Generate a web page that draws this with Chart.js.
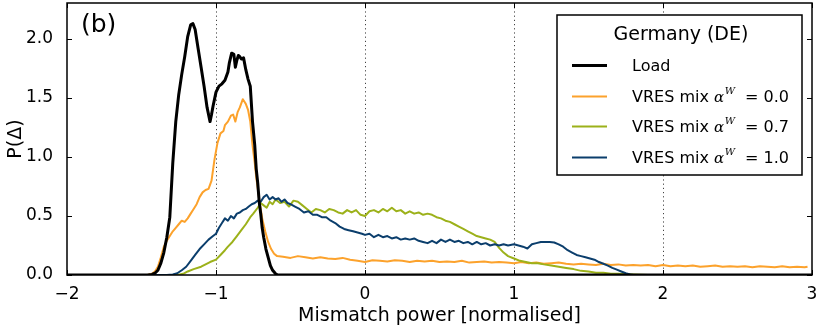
<!DOCTYPE html>
<html><head><meta charset="utf-8">
<script src="https://cdn.jsdelivr.net/npm/chart.js@4/dist/chart.umd.min.js"></script>
<style>html,body{margin:0;padding:0;background:#fff}#wrap{width:822px;height:329px;position:relative}</style>
</head><body><div id="wrap"><canvas id="c" width="822" height="329"></canvas></div>
<script>
const xTicks = [-2, -1, 0, 1, 2, 3];
const yTicks = [0, 0.5, 1.0, 1.5, 2.0];
const seriesNames = ["Load", "VRES mix", "VRES mix", "VRES mix"];
const mixValues = [null, "0.0", "0.7", "1.0"];

const loadX = [-2.0,-1.46,-1.43,-1.41,-1.39,-1.37,-1.35,-1.33,-1.31,-1.29,-1.27,-1.25,-1.23,-1.21,-1.19,-1.17,-1.155,-1.14,-1.12,-1.10,-1.08,-1.06,-1.04,-1.03,-1.02,-1.0,-0.98,-0.96,-0.94,-0.92,-0.91,-0.895,-0.88,-0.87,-0.86,-0.85,-0.84,-0.83,-0.815,-0.80,-0.785,-0.77,-0.755,-0.74,-0.73,-0.72,-0.71,-0.70,-0.69,-0.68,-0.665,-0.65,-0.635,-0.62,-0.60,-0.585,3.0];
const loadY = [0,0,0.005,0.015,0.04,0.10,0.19,0.32,0.49,0.95,1.30,1.53,1.70,1.85,2.02,2.12,2.13,2.08,1.92,1.76,1.60,1.42,1.30,1.36,1.43,1.55,1.60,1.62,1.65,1.72,1.80,1.88,1.87,1.76,1.82,1.86,1.85,1.83,1.84,1.74,1.66,1.60,1.30,1.10,0.90,0.78,0.62,0.52,0.40,0.32,0.22,0.15,0.08,0.04,0.01,0,0];

const mix00X = [-2.0,-1.46,-1.43,-1.41,-1.39,-1.37,-1.35,-1.33,-1.31,-1.29,-1.27,-1.25,-1.23,-1.21,-1.19,-1.17,-1.15,-1.13,-1.11,-1.09,-1.07,-1.05,-1.03,-1.01,-0.99,-0.97,-0.95,-0.94,-0.92,-0.90,-0.885,-0.87,-0.855,-0.84,-0.82,-0.81,-0.80,-0.785,-0.77,-0.755,-0.74,-0.73,-0.71,-0.69,-0.67,-0.65,-0.63,-0.61,-0.59,-0.55,-0.5,-0.45,-0.4,-0.35,-0.3,-0.25,-0.2,-0.15,-0.1,-0.05,0,0.05,0.1,0.15,0.2,0.25,0.3,0.35,0.4,0.45,0.5,0.55,0.6,0.65,0.7,0.75,0.8,0.85,0.9,0.95,1.0,1.05,1.1,1.15,1.2,1.25,1.3,1.35,1.4,1.45,1.5,1.55,1.6,1.65,1.7,1.75,1.8,1.85,1.9,1.95,2.0,2.05,2.1,2.15,2.2,2.25,2.3,2.35,2.4,2.45,2.5,2.55,2.6,2.65,2.7,2.75,2.8,2.85,2.9,2.95,2.97];
const mix00Y = [0,0,0.01,0.03,0.07,0.15,0.24,0.29,0.33,0.37,0.40,0.43,0.46,0.45,0.48,0.52,0.56,0.60,0.66,0.70,0.72,0.73,0.80,0.98,1.12,1.20,1.22,1.27,1.30,1.35,1.36,1.30,1.38,1.42,1.49,1.47,1.45,1.40,1.30,1.10,0.95,0.83,0.64,0.48,0.37,0.28,0.22,0.18,0.16,0.155,0.145,0.16,0.15,0.14,0.15,0.14,0.135,0.145,0.13,0.12,0.11,0.125,0.12,0.115,0.125,0.12,0.11,0.12,0.115,0.12,0.11,0.115,0.11,0.12,0.105,0.11,0.115,0.105,0.11,0.105,0.10,0.11,0.10,0.105,0.095,0.10,0.105,0.095,0.09,0.095,0.09,0.085,0.095,0.085,0.09,0.08,0.085,0.08,0.085,0.075,0.085,0.075,0.08,0.075,0.08,0.07,0.075,0.08,0.07,0.075,0.07,0.075,0.065,0.075,0.07,0.065,0.075,0.065,0.07,0.065,0.07];

const mix07X = [-2.0,-1.26,-1.22,-1.19,-1.15,-1.10,-1.07,-1.04,-1.0,-0.97,-0.94,-0.92,-0.89,-0.86,-0.83,-0.80,-0.77,-0.75,-0.72,-0.70,-0.68,-0.66,-0.64,-0.62,-0.60,-0.57,-0.54,-0.51,-0.48,-0.45,-0.42,-0.39,-0.36,-0.33,-0.30,-0.27,-0.24,-0.21,-0.18,-0.15,-0.12,-0.09,-0.06,-0.03,0.0,0.03,0.06,0.09,0.12,0.15,0.18,0.21,0.24,0.27,0.30,0.33,0.36,0.39,0.42,0.45,0.48,0.51,0.54,0.57,0.60,0.63,0.66,0.69,0.72,0.75,0.78,0.81,0.84,0.87,0.90,0.93,0.96,1.0,1.04,1.08,1.12,1.16,1.20,1.25,1.30,1.35,1.40,1.45,1.50,1.55,1.60,1.65,1.70,1.80,1.90];
const mix07Y = [0,0,0.01,0.03,0.05,0.07,0.09,0.11,0.13,0.17,0.21,0.24,0.28,0.33,0.38,0.43,0.49,0.52,0.57,0.61,0.59,0.57,0.62,0.60,0.64,0.61,0.62,0.58,0.63,0.62,0.59,0.56,0.53,0.56,0.55,0.53,0.56,0.55,0.53,0.52,0.55,0.53,0.55,0.51,0.50,0.54,0.55,0.53,0.56,0.54,0.57,0.54,0.55,0.52,0.54,0.52,0.53,0.51,0.52,0.51,0.49,0.48,0.46,0.45,0.43,0.41,0.39,0.37,0.35,0.33,0.32,0.31,0.30,0.28,0.23,0.19,0.16,0.14,0.12,0.11,0.10,0.10,0.09,0.08,0.07,0.06,0.05,0.035,0.03,0.02,0.02,0.01,0.01,0.005,0.0];

const mix10X = [-2.0,-1.33,-1.29,-1.26,-1.23,-1.20,-1.17,-1.14,-1.11,-1.08,-1.05,-1.02,-1.0,-0.98,-0.96,-0.94,-0.92,-0.90,-0.88,-0.86,-0.84,-0.82,-0.80,-0.78,-0.76,-0.74,-0.72,-0.70,-0.68,-0.66,-0.64,-0.62,-0.60,-0.58,-0.56,-0.54,-0.52,-0.50,-0.47,-0.44,-0.41,-0.38,-0.35,-0.32,-0.29,-0.26,-0.23,-0.20,-0.17,-0.14,-0.11,-0.08,-0.05,-0.02,0.0,0.03,0.06,0.09,0.12,0.15,0.18,0.21,0.24,0.27,0.30,0.33,0.36,0.39,0.42,0.45,0.48,0.51,0.54,0.57,0.60,0.63,0.66,0.69,0.72,0.75,0.78,0.81,0.84,0.87,0.90,0.93,0.96,1.0,1.03,1.06,1.09,1.12,1.15,1.18,1.21,1.24,1.27,1.30,1.33,1.36,1.39,1.42,1.45,1.48,1.51,1.54,1.57,1.60,1.63,1.66,1.69,1.72,1.75,1.78,1.80];
const mix10Y = [0,0,0.005,0.015,0.04,0.07,0.12,0.17,0.22,0.26,0.30,0.33,0.35,0.40,0.44,0.48,0.46,0.50,0.48,0.52,0.53,0.55,0.56,0.58,0.60,0.61,0.63,0.62,0.66,0.68,0.64,0.66,0.64,0.65,0.62,0.64,0.61,0.60,0.58,0.56,0.53,0.54,0.51,0.51,0.49,0.49,0.46,0.44,0.41,0.39,0.38,0.37,0.36,0.35,0.34,0.35,0.32,0.34,0.32,0.33,0.31,0.32,0.30,0.31,0.30,0.31,0.29,0.28,0.27,0.29,0.27,0.30,0.28,0.30,0.28,0.29,0.27,0.28,0.26,0.28,0.26,0.27,0.25,0.26,0.25,0.26,0.25,0.26,0.25,0.24,0.225,0.26,0.27,0.28,0.28,0.28,0.275,0.26,0.24,0.21,0.19,0.17,0.16,0.15,0.14,0.13,0.11,0.095,0.08,0.06,0.045,0.03,0.015,0.005,0];

const colors = ["#000000", "#fca22c", "#9cb11a", "#0b3e6c"];
const widths = [3, 2, 2, 2];

function pts(xs, ys){ return xs.map((x,i)=>({x:x, y:ys[i]})); }

const FONT = "'DejaVu Sans', sans-serif";

const decor = {
  id: 'decor',
  beforeDatasetsDraw(chart){
    const ctx = chart.ctx, a = chart.chartArea, xs = chart.scales.x;
    ctx.save();
    ctx.strokeStyle = '#444'; ctx.lineWidth = 1; ctx.setLineDash([1.2, 3]);
    [-1,0,1,2].forEach(v=>{
      const px = Math.round(xs.getPixelForValue(v)) + 0.5;
      ctx.beginPath(); ctx.moveTo(px, a.top); ctx.lineTo(px, a.bottom); ctx.stroke();
    });
    ctx.restore();
  },
  afterDraw(chart){
    const ctx = chart.ctx, a = chart.chartArea, xs = chart.scales.x, ys = chart.scales.y;
    ctx.save();
    ctx.strokeStyle = '#000'; ctx.lineWidth = 1.5;
    ctx.strokeRect(a.left, a.top, a.right - a.left, a.bottom - a.top);
    ctx.lineWidth = 1;
    xTicks.forEach(v=>{
      const px = Math.round(xs.getPixelForValue(v)) + 0.5;
      ctx.beginPath(); ctx.moveTo(px, a.bottom); ctx.lineTo(px, a.bottom - 5);
      ctx.moveTo(px, a.top); ctx.lineTo(px, a.top + 5); ctx.stroke();
    });
    yTicks.forEach(v=>{
      const py = Math.round(ys.getPixelForValue(v)) + 0.5;
      ctx.beginPath(); ctx.moveTo(a.left, py); ctx.lineTo(a.left + 5, py);
      ctx.moveTo(a.right, py); ctx.lineTo(a.right - 5, py); ctx.stroke();
    });
    ctx.fillStyle = '#000';
    ctx.font = "25px " + FONT; ctx.textBaseline = 'alphabetic'; ctx.textAlign = 'left';
    ctx.fillText('(b)', 81, 32);
    ctx.font = "19px " + FONT; ctx.textAlign = 'center';
    ctx.fillText('Mismatch power [normalised]', (a.left + a.right)/2, 321);
    ctx.save(); ctx.translate(21, (a.top + a.bottom)/2); ctx.rotate(-Math.PI/2);
    ctx.fillText('P(Δ)', 0, 0); ctx.restore();
    const L = 557, T = 15, R = 802, B = 175;
    ctx.fillStyle = '#fff'; ctx.fillRect(L, T, R - L, B - T);
    ctx.strokeStyle = '#000'; ctx.lineWidth = 1.5; ctx.strokeRect(L, T, R - L, B - T);
    ctx.fillStyle = '#000'; ctx.font = "19px " + FONT; ctx.textAlign = 'center';
    ctx.fillText('Germany (DE)', 681, 40);
    const rows = [65, 96, 126, 157];
    chart.data.datasets.forEach((ds, i)=>{
      const y = rows[i];
      ctx.strokeStyle = ds.borderColor; ctx.lineWidth = ds.borderWidth;
      ctx.beginPath(); ctx.moveTo(572, y + 0.5); ctx.lineTo(607, y + 0.5); ctx.stroke();
      ctx.fillStyle = '#000'; ctx.textAlign = 'left';
      ctx.font = "16px " + FONT;
      let x = 632; const by = y + 6;
      ctx.fillText(seriesNames[i] + (mixValues[i] ? ' ' : ''), x, by);
      if (mixValues[i]) {
        x += ctx.measureText(seriesNames[i] + ' ').width;
        ctx.font = "italic 15px 'DejaVu Serif', serif";
        ctx.fillText('α', x, by);
        x += ctx.measureText('α').width + 0.5;
        ctx.font = "italic 10px 'DejaVu Serif', serif";
        ctx.fillText('W', x, by - 8);
        ctx.font = "16px " + FONT;
        ctx.fillText('= ' + mixValues[i], 745, by);
      }
    });
    ctx.restore();
  }
};

new Chart(document.getElementById('c'), {
  type: 'scatter',
  data: { datasets: [
    { label: 'Load', data: pts(loadX, loadY), order: 0 },
    { label: 'mix0.0', data: pts(mix00X, mix00Y), order: 3 },
    { label: 'mix0.7', data: pts(mix07X, mix07Y), order: 2 },
    { label: 'mix1.0', data: pts(mix10X, mix10Y), order: 1 }
  ].map((d,i)=>Object.assign(d, { showLine: true, borderColor: colors[i], backgroundColor: colors[i], borderWidth: widths[i], pointRadius: 0, tension: 0, fill: false, borderJoinStyle: 'round' })) },
  options: {
    responsive: false, animation: false,
    layout: { padding: { left: 0, right: 10, top: 3, bottom: 0 } },
    plugins: { legend: { display: false }, tooltip: { enabled: false } },
    scales: {
      x: { type: 'linear', min: -2, max: 3,
        afterBuildTicks: s => { s.ticks = xTicks.map(v=>({value:v})); },
        afterFit: s => { s.height = 54; s.paddingLeft = 0; s.paddingRight = 0; s.paddingTop = 0; s.paddingBottom = 0; },
        grid: { display: false }, border: { display: false },
        ticks: { padding: 1, color: '#000', font: { family: FONT, size: 17 }, maxRotation: 0,
          callback: v => (v < 0 ? '\u2212' + Math.abs(v) : String(v)) } },
      y: { type: 'linear', min: 0, max: 2.305,
        afterBuildTicks: s => { s.ticks = yTicks.map(v=>({value:v})); },
        afterFit: s => { s.width = 67; s.paddingLeft = 0; s.paddingRight = 0; s.paddingTop = 0; s.paddingBottom = 0; },
        grid: { display: false }, border: { display: false },
        ticks: { padding: 6, color: '#000', font: { family: FONT, size: 17 },
          callback: v => Number(v).toFixed(1) } }
    }
  },
  plugins: [decor]
});
</script></body></html>
